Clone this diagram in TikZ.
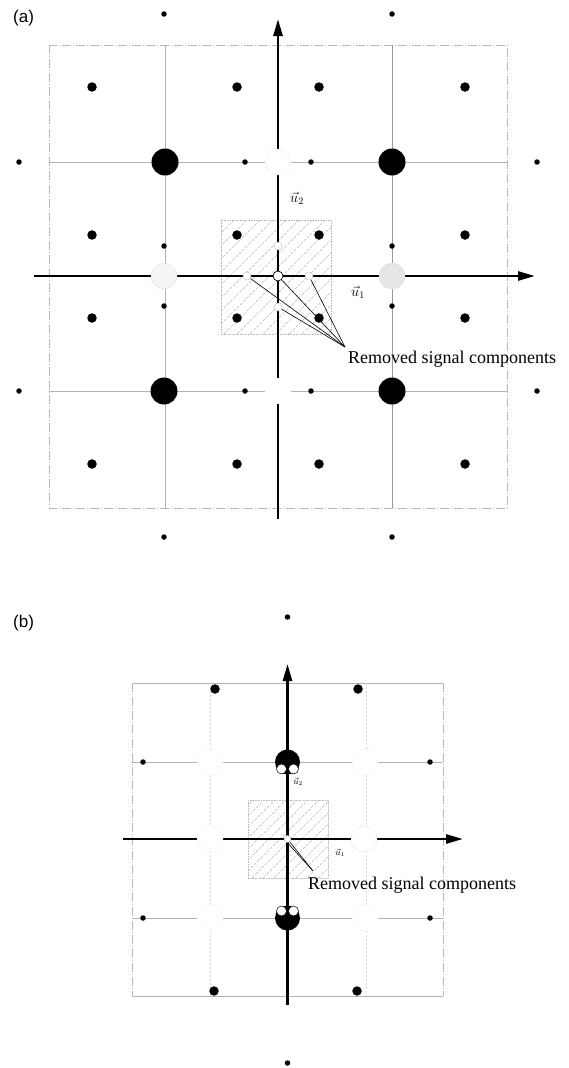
\documentclass[tikz,border=0pt]{standalone}
\usepackage{fontspec}
\setmainfont{Liberation Serif}
\newfontfamily\labfont{Liberation Sans}
\usetikzlibrary{arrows.meta}
\tikzset{
 bigdot/.style={circle,fill=black,inner sep=0pt,minimum size=27pt},
 meddot/.style={circle,fill=black,inner sep=0pt,minimum size=9.5pt},
 smalldot/.style={circle,fill=black,inner sep=0pt,minimum size=5.5pt},
 gone/.style={circle,fill=white,draw=gray!35,densely dotted,line width=0.6pt,inner sep=0pt,minimum size=26pt},
 gonesmall/.style={circle,fill=white,draw=gray!45,line width=0.5pt,inner sep=0pt,minimum size=8pt},
 gridline/.style={gray!60,line width=0.7pt},
 frameline/.style={gray!55,line width=0.7pt,dash pattern=on 9pt off 2pt on 1pt off 2pt},
 faintline/.style={gray!30,line width=0.6pt,dash pattern=on 2pt off 2pt},
 axisline/.style={line width=2.6pt,-{Triangle[length=17pt,width=9pt]}},
 hatch/.style={gray!55,line width=0.5pt,dash pattern=on 3pt off 1.5pt},
 hatchbox/.style={gray!55,line width=0.6pt,densely dotted},
 pointer/.style={line width=0.6pt},
 panellabel/.style={anchor=north west,inner sep=0pt,font=\labfont\fontsize{17}{17}\selectfont},
 caption/.style={anchor=base west,inner sep=0pt,font=\fontsize{18}{18}\selectfont},
 pac/.style={circle,fill=black,inner sep=0pt,minimum size=25pt},
 pachole/.style={circle,fill=white,draw=black,line width=0.5pt,inner sep=0pt,minimum size=10pt},
}
\begin{document}
\begin{tikzpicture}[x=1pt,y=-1pt]
\useasboundingbox (0,0) rectangle (569,1068);
% ================= (a) =================
\node[panellabel] (la) at (13,10) {(a)};
% grid
\draw[frameline] (49,45) rectangle (507,508);
\draw[gridline] (49,162) -- (507,162);
\draw[gridline] (49,391) -- (507,391);
\draw[gridline] (165,45) -- (165,508);
\draw[gridline,gray!80] (392,45) -- (392,508);
% hatched box
\begin{scope}
\clip (221,220) rectangle (331,334);
\foreach \k in {0,...,19} \draw[hatch] ({221+\k*13-120},340) -- ++(126,-126);
\end{scope}
\draw[hatchbox] (221,220) rectangle (331,334);
% axes
\coordinate (ax0) at (34,276);
\coordinate (ax1) at (535,276);
\coordinate (ay0) at (278,519);
\coordinate (ay1) at (278,19);
\draw[axisline] (ax0) -- (ax1);
\draw[axisline] (ay0) -- (ay1);
% removed components
\node[gone,draw=gray!25] (ga1) at (278,162) {};
\node[gone,fill=gray!8] (ga2) at (164,276) {};
\node[gone,fill=gray!20] (ga3) at (392,276) {};
\node[gone,draw=none] (ga4) at (278,391) {};
\node[gonesmall] (gs1) at (247,276) {};
\node[gonesmall] (gs2) at (309,276) {};
\node[gonesmall] (gs3) at (278,246) {};
\node[gonesmall] (gs4) at (278,307) {};
\node[circle,fill=white,draw=black,line width=0.7pt,inner sep=0pt,minimum size=10pt] (oa) at (278,276) {};
% big dots
\node[bigdot] (b1) at (165,162) {};
\node[bigdot] (b2) at (392,162) {};
\node[bigdot] (b3) at (164,391) {};
\node[bigdot] (b4) at (392,391) {};
% medium dots
\foreach \x [count=\i] in {92,237,319,465}
  \foreach \y [count=\j] in {87,235,318,464}
    \node[meddot] (m\i\j) at (\x,\y) {};
% small dots
\node[smalldot] (s1) at (164,14) {};
\node[smalldot] (s2) at (392,14) {};
\node[smalldot] (s3) at (19,162) {};
\node[smalldot] (s4) at (245,162) {};
\node[smalldot] (s5) at (311,162) {};
\node[smalldot] (s6) at (537,162) {};
\node[smalldot] (s7) at (164,246) {};
\node[smalldot] (s8) at (392,246) {};
\node[smalldot] (s9) at (164,306) {};
\node[smalldot] (s10) at (392,306) {};
\node[smalldot] (s11) at (19,391) {};
\node[smalldot] (s12) at (245,391) {};
\node[smalldot] (s13) at (311,391) {};
\node[smalldot] (s14) at (537,391) {};
\node[smalldot] (s15) at (164,537) {};
\node[smalldot] (s16) at (392,537) {};
% labels
\node[font=\fontsize{14}{14}\selectfont] (u2a) at (297,198) {$\vec{u}_2$};
\node[font=\fontsize{14}{14}\selectfont] (u1a) at (358,292) {$\vec{u}_1$};
\node[caption] (ta) at (348,363) {Removed signal components};
\coordinate (ca) at (345,347);
\draw[pointer] (ca) -- (gs1);
\draw[pointer] (ca) -- (oa);
\draw[pointer] (ca) -- (gs4);
\draw[pointer] (ca) -- (gs2);
% ================= (b) =================
\node[panellabel] (lb) at (13,615) {(b)};
% grid
\draw[gridline] (132,683) -- (443,683);
\draw[gridline] (132,762) -- (443,762);
\draw[gridline] (132,918) -- (443,918);
\draw[gridline] (132,996) -- (443,996);
\draw[frameline] (132,683) -- (132,996);
\draw[frameline] (443,683) -- (443,996);
\draw[faintline] (210,683) -- (210,996);
\draw[faintline] (366,683) -- (366,996);
% hatched box
\begin{scope}
\clip (248,800) rectangle (328,878);
\foreach \k in {0,...,15} \draw[hatch] ({248+\k*11-90},884) -- ++(96,-96);
\end{scope}
\draw[hatchbox] (248,800) rectangle (328,878);
% axes
\coordinate (bx0) at (123,839);
\coordinate (bx1) at (463,839);
\coordinate (by0) at (287.5,1005);
\coordinate (by1) at (287.5,664);
\draw[axisline] (bx0) -- (bx1);
\draw[axisline] (by0) -- (by1);
% removed components
\node[gone,draw=gray!15] (gb1) at (210,762) {};
\node[gone,draw=gray!15] (gb2) at (365,762) {};
\node[gone,draw=gray!20] (gb3) at (210,839) {};
\node[gone,draw=gray!30] (gb4) at (364,839) {};
\node[gone,draw=gray!12] (gb5) at (210,918) {};
\node[gone,draw=gray!12] (gb6) at (365,918) {};
\node[circle,fill=white,draw=gray!60,line width=0.5pt,inner sep=0pt,minimum size=7pt] (ob) at (287.5,839) {};
% split dots
\node[pac] (p1) at (287.5,762) {};
\node[pachole] (p1a) at (281.5,769) {};
\node[pachole] (p1b) at (293.5,769) {};
\node[pac] (p2) at (287.5,918) {};
\node[pachole] (p2a) at (281.5,911) {};
\node[pachole] (p2b) at (293.5,911) {};
% medium dots
\node[meddot] (bm1) at (215,689) {};
\node[meddot] (bm2) at (358,689) {};
\node[meddot] (bm3) at (214,991) {};
\node[meddot] (bm4) at (357,991) {};
% small dots
\node[smalldot] (bs1) at (287.5,617) {};
\node[smalldot] (bs2) at (143,762) {};
\node[smalldot] (bs3) at (430,762) {};
\node[smalldot] (bs4) at (143,918) {};
\node[smalldot] (bs5) at (430,918) {};
\node[smalldot] (bs6) at (287.5,1063) {};
% labels
\node[font=\fontsize{9}{9}\selectfont] (u2b) at (298,782) {$\vec{u}_2$};
\node[font=\fontsize{9}{9}\selectfont] (u1b) at (340,853) {$\vec{u}_1$};
\node[caption] (tb) at (308,889) {Removed signal components};
\coordinate (cb) at (313,871);
\draw[pointer] (cb) -- (ob);
\draw[pointer] (cb) -- (ob.south);
\end{tikzpicture}
\end{document}
